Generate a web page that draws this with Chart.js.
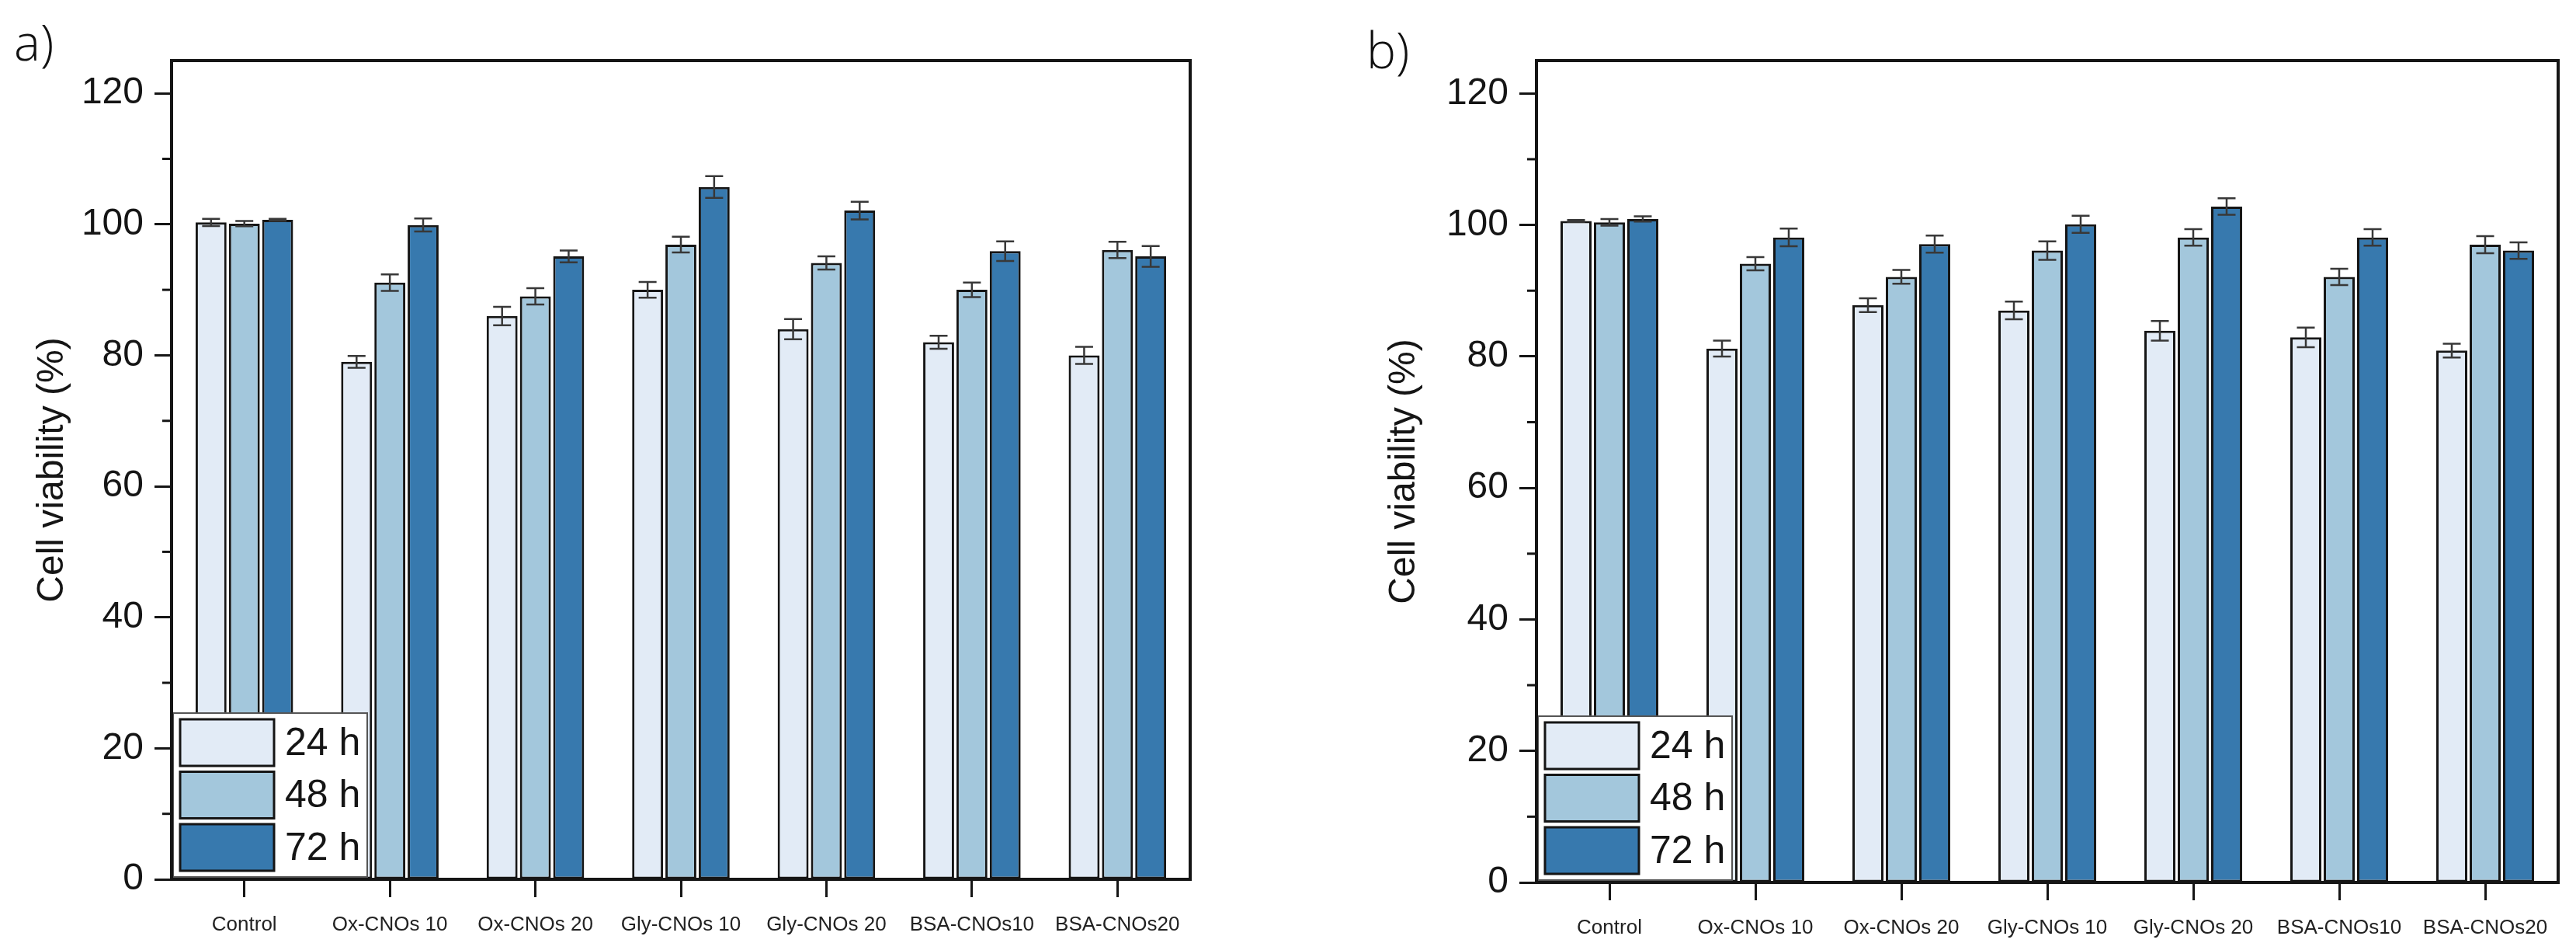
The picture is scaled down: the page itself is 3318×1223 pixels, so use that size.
<!DOCTYPE html>
<html>
<head>
<meta charset="utf-8">
<script src="https://cdn.jsdelivr.net/npm/chart.js@4.4.1/dist/chart.umd.min.js"></script>
<style>
  body { margin: 0; background: #fff; width: 3318px; height: 1223px; position: relative; overflow: hidden; }
  .panel { position: absolute; top: 0; width: 1659px; height: 1223px; }
  .tag { position: absolute; font-family: "Open Sans", sans-serif; font-weight: 300; font-size: 64px; line-height: 64px; color: #111; }
</style>
</head>
<body>
<div class="panel" style="left:0"><canvas id="chartA" width="1659" height="1223"></canvas></div>
<div class="panel" style="left:1659px"><canvas id="chartB" width="1659" height="1223"></canvas></div>
<div class="tag" style="left:18px; top:22px">a)</div>
<div class="tag" style="left:1760px; top:32px">b)</div>
<script>
const categories = ['Control', 'Ox-CNOs 10', 'Ox-CNOs 20', 'Gly-CNOs 10', 'Gly-CNOs 20', 'BSA-CNOs10', 'BSA-CNOs20'];
const seriesLabels = ['24 h', '48 h', '72 h'];
const yTicks = [0, 20, 40, 60, 80, 100, 120];
const yMinorTicks = [10, 30, 50, 70, 90, 110];

// panel a
const a24 = [100.3, 79.0, 86.0, 90.0, 84.0, 82.0, 80.0];
const a48 = [100.1, 91.1, 89.0, 96.9, 94.1, 90.0, 96.1];
const a72 = [100.7, 99.9, 95.1, 105.7, 102.1, 95.9, 95.1];
const a24err = [0.55, 0.9, 1.4, 1.2, 1.55, 1.0, 1.3];
const a48err = [0.4, 1.25, 1.25, 1.2, 1.0, 1.1, 1.25];
const a72err = [0.15, 1.0, 0.9, 1.65, 1.35, 1.5, 1.6];

// panel b
const b24 = [100.6, 81.2, 87.8, 87.0, 83.9, 82.9, 80.9];
const b48 = [100.4, 94.1, 92.1, 96.1, 98.1, 92.1, 97.0];
const b72 = [100.9, 98.1, 97.1, 100.1, 102.8, 98.1, 96.1];
const b24err = [0.15, 1.2, 1.05, 1.35, 1.5, 1.5, 1.05];
const b48err = [0.5, 1.0, 1.05, 1.4, 1.25, 1.25, 1.3];
const b72err = [0.4, 1.35, 1.3, 1.3, 1.25, 1.25, 1.25];

const colors = ['#E2EBF6', '#A3C7DC', '#3779AE'];
const ink = '#151515';

const errorBars = {
    id: 'errorBars',
    afterDatasetsDraw(chart) {
        const ctx = chart.ctx;
        const y = chart.scales.y;
        ctx.save();
        ctx.strokeStyle = '#383838';
        ctx.lineWidth = 2.5;
        chart.data.datasets.forEach((ds, i) => {
            const meta = chart.getDatasetMeta(i);
            meta.data.forEach((bar, j) => {
                const v = ds.data[j];
                const e = ds.errors[j];
                const top = y.getPixelForValue(v + e);
                const bot = y.getPixelForValue(v - e);
                ctx.beginPath();
                ctx.moveTo(bar.x, top);
                ctx.lineTo(bar.x, bot);
                ctx.moveTo(bar.x - 11.5, top);
                ctx.lineTo(bar.x + 11.5, top);
                ctx.moveTo(bar.x - 11.5, bot);
                ctx.lineTo(bar.x + 11.5, bot);
                ctx.stroke();
            });
        });
        ctx.restore();
    }
};

const boxLegend = {
    id: 'boxLegend',
    afterDraw(chart) {
        const ctx = chart.ctx;
        const area = chart.chartArea;
        const y = chart.scales.y;
        ctx.save();
        // legend box
        const bx = area.left + 2, by = area.bottom - 214, bw = 250, bh = 211;
        ctx.fillStyle = '#fff';
        ctx.fillRect(bx, by, bw, bh);
        ctx.strokeStyle = '#555';
        ctx.lineWidth = 2;
        ctx.strokeRect(bx, by, bw, bh);
        chart.data.datasets.forEach((ds, i) => {
            const sy = by + 8 + i * 67.5;
            ctx.fillStyle = ds.backgroundColor;
            ctx.fillRect(bx + 9, sy, 121, 60);
            ctx.strokeStyle = ink;
            ctx.lineWidth = 3;
            ctx.strokeRect(bx + 9, sy, 121, 60);
            ctx.fillStyle = ink;
            ctx.font = '50px "Liberation Sans", Arial, sans-serif';
            ctx.textBaseline = 'middle';
            ctx.textAlign = 'left';
            ctx.fillText(ds.label, bx + 144, sy + 32);
        });
        // minor ticks
        ctx.strokeStyle = ink;
        ctx.lineWidth = 3;
        yMinorTicks.forEach(v => {
            const py = y.getPixelForValue(v);
            ctx.beginPath();
            ctx.moveTo(area.left - 12, py);
            ctx.lineTo(area.left, py);
            ctx.stroke();
        });
        // frame
        ctx.lineWidth = 4;
        ctx.strokeRect(area.left, area.top, area.right - area.left, area.bottom - area.top);
        ctx.restore();
    }
};

function makeChart(id, v24, v48, v72, e24, e48, e72, pad, titlePad, xHeight) {
    const values = [v24, v48, v72];
    const errs = [e24, e48, e72];
    new Chart(document.getElementById(id), {
        type: 'bar',
        data: {
            labels: categories,
            datasets: seriesLabels.map((label, i) => ({
                label: label,
                data: values[i],
                errors: errs[i],
                backgroundColor: colors[i],
                borderColor: ink,
                borderWidth: 3,
                borderSkipped: false,
                categoryPercentage: 0.686,
                barPercentage: 0.93
            }))
        },
        options: {
            responsive: false,
            animation: false,
            devicePixelRatio: 1,
            layout: { padding: pad },
            plugins: {
                legend: { display: false },
                tooltip: { enabled: false }
            },
            scales: {
                x: {
                    afterFit: s => { s.height = xHeight; },
                    border: { display: false },
                    grid: {
                        offset: false,
                        drawOnChartArea: false,
                        drawTicks: true,
                        tickLength: 23,
                        tickWidth: 3,
                        tickColor: ink
                    },
                    ticks: {
                        autoSkip: false,
                        maxRotation: 0,
                        padding: 20,
                        color: '#222',
                        font: { family: '"Liberation Sans", Arial, sans-serif', size: 26 }
                    }
                },
                y: {
                    min: 0,
                    max: 125,
                    afterFit: s => { s.width = 221; },
                    afterBuildTicks: s => { s.ticks = yTicks.map(v => ({ value: v })); },
                    border: { display: false },
                    grid: {
                        drawOnChartArea: false,
                        drawTicks: true,
                        tickLength: 22,
                        tickWidth: 3,
                        tickColor: ink
                    },
                    ticks: {
                        padding: 14,
                        color: ink,
                        font: { family: '"Liberation Sans", Arial, sans-serif', size: 48 }
                    },
                    title: {
                        display: true,
                        text: 'Cell viability (%)',
                        color: ink,
                        padding: { top: titlePad, bottom: 0 },
                        font: { family: '"Liberation Sans", Arial, sans-serif', size: 48 }
                    }
                }
            }
        },
        plugins: [errorBars, boxLegend]
    });
}

makeChart('chartA', a24, a48, a72, a24err, a48err, a72err,
    { left: 0, right: 126, top: 78, bottom: 0 }, 39, 91);
makeChart('chartB', b24, b48, b72, b24err, b48err, b72err,
    { left: 99, right: 23, top: 78, bottom: 0 }, 22, 87);
</script>
</body>
</html>
